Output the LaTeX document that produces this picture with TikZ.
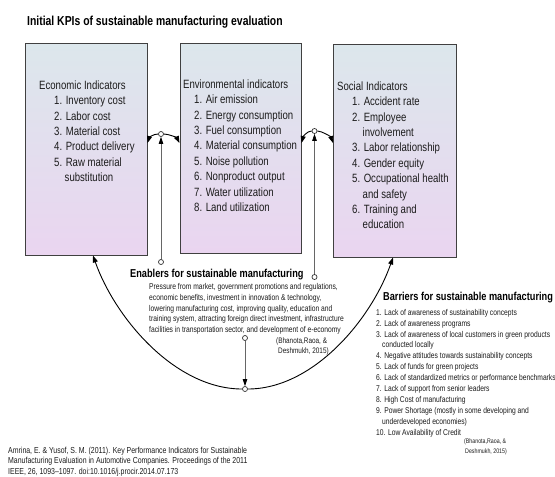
\documentclass[tikz,border=0pt]{standalone}
\usepackage{xcolor}
\usepackage{fontspec}
\setmainfont{Liberation Sans}[FakeStretch=0.8]
\definecolor{boxtop}{RGB}{220,231,236}
\definecolor{boxbot}{RGB}{234,213,240}
\definecolor{inkgray}{RGB}{28,28,28}
\usetikzlibrary{arrows.meta}

\begin{document}
\begin{tikzpicture}[x=1pt,y=-1pt,
  kpibox/.style={draw=black!75, line width=1pt, top color=boxtop, bottom color=boxbot, inner sep=0pt},
  kpitext/.style={anchor=north west, align=left, inner sep=0pt, text=inkgray, font=\fontsize{12}{15.4}\selectfont},
  headtext/.style={anchor=base west, inner sep=0pt, text=black, font=\bfseries\fontsize{11.5}{13}\selectfont},
  smalltext/.style={anchor=north west, align=left, inner sep=0pt, text=inkgray, font=\fontsize{8.4}{10.9}\selectfont},
  dot/.style={circle, draw=black!80, fill=white, line width=0.7pt, inner sep=0pt, minimum size=5pt},
  arcline/.style={draw=black, line width=0.9pt, -{Triangle[length=7pt,width=5pt]}},
  upline/.style={draw=black!60, line width=0.7pt, -{Triangle[length=7pt,width=4.5pt,color=black]}}]
\fill[white] (0,0) rectangle (555,477);
\useasboundingbox (0,0) rectangle (555,477);

% title
\node[headtext, font=\bfseries\fontsize{13}{15}\selectfont] (title) at (27,25) {Initial KPIs of sustainable manufacturing evaluation};

% the three KPI groups
\node[kpibox, minimum width=122, minimum height=212] (econ) at (86,149) {};
\node[kpibox, minimum width=121, minimum height=210] (env) at (240.5,148) {};
\node[kpibox, minimum width=123, minimum height=213] (social) at (395,150.5) {};

\node[kpitext] (econlist) at (39,80.5) {Economic Indicators\\
\hspace*{15pt}1. Inventory cost\\
\hspace*{15pt}2. Labor cost\\
\hspace*{15pt}3. Material cost\\
\hspace*{15pt}4. Product delivery\\
\hspace*{15pt}5. Raw material\\
\hspace*{25.5pt}substitution};
\node[kpitext] (envlist) at (183,79.5) {Environmental indicators\\
\hspace*{11pt}1. Air emission\\
\hspace*{11pt}2. Energy consumption\\
\hspace*{11pt}3. Fuel consumption\\
\hspace*{11pt}4. Material consumption\\
\hspace*{11pt}5. Noise pollution\\
\hspace*{11pt}6. Nonproduct output\\
\hspace*{11pt}7. Water utilization\\
\hspace*{11pt}8. Land utilization};
\node[kpitext] (sociallist) at (337,81.5) {Social Indicators\\
\hspace*{15pt}1. Accident rate\\
\hspace*{15pt}2. Employee\\
\hspace*{25.5pt}involvement\\
\hspace*{15pt}3. Labor relationship\\
\hspace*{15pt}4. Gender equity\\
\hspace*{15pt}5. Occupational health\\
\hspace*{25.5pt}and safety\\
\hspace*{15pt}6. Training and\\
\hspace*{25.5pt}education};

% enablers
\node[headtext] (enablers) at (130,277) {Enablers for sustainable manufacturing};
\node[smalltext] (enablerlist) at (149,283) {Pressure from market, government promotions and regulations,\\
economic benefits, investment in innovation \& technology,\\
lowering manufacturing cost, improving quality, education and\\
training system, attracting foreign direct investment, infrastructure\\
facilities in transportation sector, and development of e-economy};
\node[smalltext, font=\fontsize{8}{10}\selectfont] (enablercite) at (276,337) {(Bhanota,Raoa, \&\\
\hspace*{2pt}Deshmukh, 2015)};

% barriers
\node[headtext] (barriers) at (383,300.5) {Barriers for sustainable manufacturing};
\node[smalltext] (barrierlist) at (376,309) {1. Lack of awareness of sustainability concepts\\
2. Lack of awareness programs\\
3. Lack of awareness of local customers in green products\\
\hspace*{6pt}conducted locally\\
4. Negative attitudes towards sustainability concepts\\
5. Lack of funds for green projects\\
6. Lack of standardized metrics or performance benchmarks\\
7. Lack of support from senior leaders\\
8. High Cost of manufacturing\\
9. Power Shortage (mostly in some developing and\\
\hspace*{6pt}underdeveloped economies)\\
10. Low Availability of Credit};
\node[smalltext, font=\fontsize{6.6}{9.8}\selectfont] (barriercite) at (464,439) {(Bhanota,Raoa, \&\\
\hspace*{1pt}Deshmukh, 2015)};

% source
\node[smalltext, font=\fontsize{8.7}{10.5}\selectfont] (source) at (8,446.5) {Amrina, E. \& Yusof, S. M. (2011). Key Performance Indicators for Sustainable\\
Manufacturing Evaluation in Automotive Companies. Proceedings of the 2011\\
IEEE, 26, 1093–1097. doi:10.1016/j.procir.2014.07.173};

% joints
\node[dot] (envjoint) at (161,134) {};
\node[dot] (socjoint) at (314.5,131) {};
\node[dot] (enableft) at (161,262) {};
\node[dot] (enabright) at (314.5,277) {};
\node[dot] (textjoint) at (245,338) {};
\node[dot] (arcjoint) at (245,389) {};

% connectors
\draw[arcline] (envjoint) .. controls (153,134) and (149,138) .. (econ.east |- 0,143);
\draw[arcline] (envjoint) .. controls (169,134) and (177,138) .. (env.west |- 0,143);
\draw[arcline] (socjoint) .. controls (307,131) and (303,137) .. (env.east |- 0,143);
\draw[arcline] (socjoint) .. controls (322,131) and (331,137) .. (social.west |- 0,143);
\draw[upline] (enableft) -- (envjoint);
\draw[upline] (enabright) -- (socjoint);
\draw[upline] (textjoint) -- (arcjoint);
\draw[arcline] (arcjoint) .. controls (175,389) and (115,318) .. (econ.south -| 93,0);
\draw[arcline] (arcjoint) .. controls (313,389) and (371,320) .. (social.south -| 393,0);
\end{tikzpicture}
\end{document}
